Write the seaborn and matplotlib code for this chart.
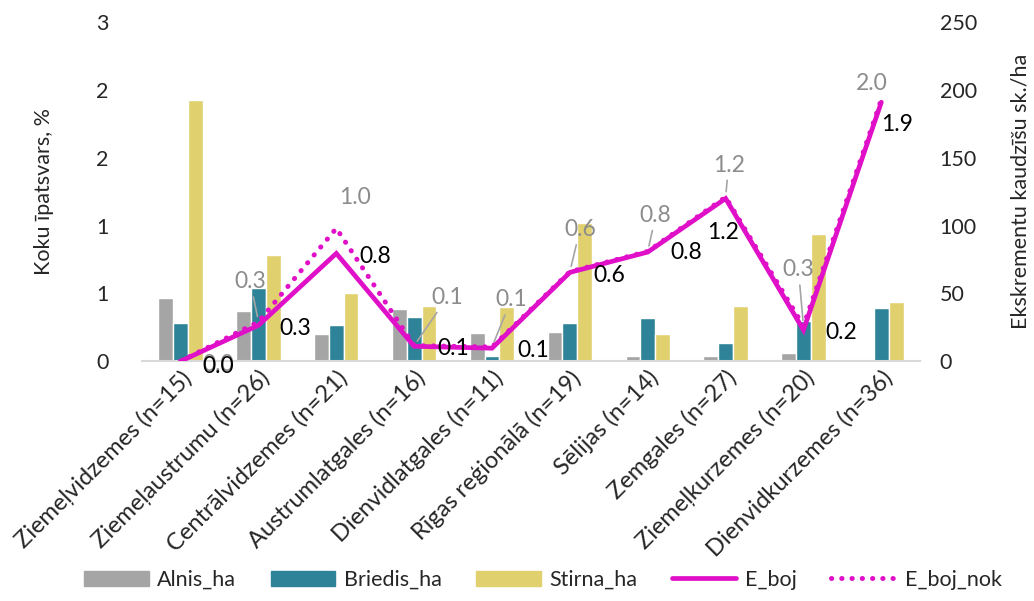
import pandas as pd
import matplotlib.pyplot as plt
import seaborn as sns

sns.set_style('white')
plt.rcParams['font.family'] = ['Lato', 'DejaVu Sans']

regions = ['Ziemeļvidzemes (n=15)', 'Ziemeļaustrumu (n=26)', 'Centrālvidzemes (n=21)',
           'Austrumlatgales (n=16)', 'Dienvidlatgales (n=11)', 'Rīgas reģionālā (n=19)',
           'Sēlijas (n=14)', 'Zemgales (n=27)', 'Ziemeļkurzemes (n=20)', 'Dienvidkurzemes (n=36)']

alnis = [0.56, 0.44, 0.24, 0.46, 0.25, 0.26, 0.05, 0.05, 0.07, 0.0]
briedis = [0.34, 0.65, 0.32, 0.39, 0.05, 0.34, 0.38, 0.16, 0.36, 0.47]
stirna = [2.31, 0.94, 0.60, 0.49, 0.48, 1.22, 0.24, 0.49, 1.13, 0.52]

e_boj = [0, 26.5, 79.5, 11, 9.6, 65.5, 80.5, 120, 23, 191]
e_boj_nok = [0, 29, 98, 11.5, 10.5, 66, 81, 121, 26, 193]

lbl_boj = ['0.0', '0.3', '0.8', '0.1', '0.1', '0.6', '0.8', '1.2', '0.2', '1.9']
lbl_nok = ['0.0', '0.3', '1.0', '0.1', '0.1', '0.6', '0.8', '1.2', '0.3', '2.0']

bar_names = ['Alnis_ha', 'Briedis_ha', 'Stirna_ha']
bar_colors = ['#a5a5a5', '#2e8399', '#e0d06e']
line_color = '#e010c8'

df = pd.DataFrame({'Region': regions * 3,
                   'Suga': sum([[n] * len(regions) for n in bar_names], []),
                   'Value': alnis + briedis + stirna})

fig = plt.figure(figsize=(10.34, 6.01), dpi=100)
ax1 = fig.add_axes([0.137, 0.399, 0.753, 0.564])
sns.barplot(data=df, x='Region', y='Value', hue='Suga', palette=bar_colors,
            width=0.57, gap=0, saturation=1, ax=ax1, legend=False)
ax1.set_ylim(0, 3)
ax1.set_yticks([0, 0.6, 1.2, 1.8, 2.4, 3.0])
ax1.set_yticklabels(['0', '1', '1', '2', '2', '3'])
ax1.set_xlim(-0.5, len(regions) - 0.5)
ax1.set_ylabel('Koku īpatsvars, %', fontsize=15.5, labelpad=30)
ax1.set_xlabel('')
ax1.tick_params(axis='y', labelsize=15.5, length=0, pad=24)
ax1.tick_params(axis='x', labelsize=17, length=0, pad=4)
plt.setp(ax1.get_xticklabels(), rotation=45, ha='right', rotation_mode='anchor')

ax2 = ax1.twinx()
xs = list(range(len(regions)))
ax2.plot(xs, e_boj, color=line_color, lw=3.4, solid_joinstyle='miter', label='E_boj')
ax2.plot(xs, e_boj_nok, color=line_color, lw=3.6, linestyle=(0, (0.05, 2.0)),
         dash_capstyle='round', label='E_boj_nok')
ax2.set_ylim(0, 250)
ax2.set_yticks([0, 50, 100, 150, 200, 250])
ax2.tick_params(axis='y', labelsize=15.5, length=0, pad=14)
ax2.set_ylabel('Ekskrementu kaudzīšu sk./ha', fontsize=15.5, labelpad=24)

for a in (ax1, ax2):
    for s in a.spines.values():
        s.set_visible(False)
ax1.spines['bottom'].set_visible(True)
ax1.spines['bottom'].set_color('#d9d9d9')
ax1.spines['bottom'].set_linewidth(1.5)

# label offsets in pixels (dx, dy up)
nok_off = [(38, -3), (-8, 40), (19, 31), (33, 48), (19, 47), (10, 42), (8, 36), (3, 32), (-5, 56), (-10, 16)]
leader = [False, True, False, True, True, True, True, True, True, False]
boj_off = [(38, -5), (37, -3), (39, -3), (39, -2), (41, -2), (39, -3), (39, 0), (-3, -34), (38, -2), (16, -22)]

for i in xs:
    ap = dict(arrowstyle='-', color='#a5a5a5', lw=1.2, shrinkA=1, shrinkB=4) if leader[i] else None
    ax2.annotate(lbl_nok[i], (i, e_boj_nok[i]), xytext=nok_off[i], textcoords='offset pixels',
                 ha='center', va='center', fontsize=16.5, color='#8c8c8c', arrowprops=ap)
    ax2.annotate(lbl_boj[i], (i, e_boj[i]), xytext=boj_off[i], textcoords='offset pixels',
                 ha='center', va='center', fontsize=16.5, color='black')

handles = [plt.Rectangle((0, 0), 1, 1, color=c) for c in bar_colors]
handles += ax2.get_lines()[:2]
fig.legend(handles, bar_names + ['E_boj', 'E_boj_nok'], loc='center', ncol=5,
           bbox_to_anchor=(0.525, 0.035), frameon=False, fontsize=15.5,
           handlelength=3.0, columnspacing=1.6, handletextpad=0.4)

fig.savefig('out.png', dpi=100)
